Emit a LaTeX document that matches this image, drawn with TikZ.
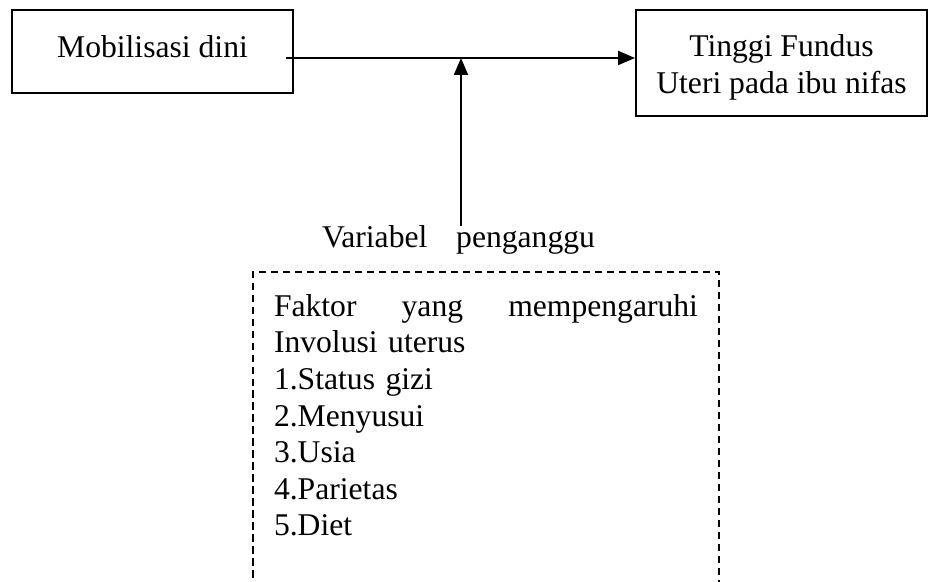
\documentclass[tikz,border=0pt]{standalone}
\usepackage{fontspec}
\setmainfont{Liberation Serif}
\usepackage{tikz}
\usetikzlibrary{shapes,arrows.meta,positioning,fit}
\tikzstyle{box} = [draw,line width=1.1pt,rectangle,inner sep=0pt,align=center]
\tikzstyle{dbox} = [draw,line width=0.8pt,dash pattern=on 0.15cm off 0.09cm]
\tikzstyle{arr} = [line width=1.1pt,-{Triangle[length=0.34cm,width=0.28cm]}]
\tikzstyle{lbl} = [inner sep=0pt,outer sep=0pt]
\def \fs {\fontsize{18}{20.8}\selectfont}

\begin{document}
\begin{tikzpicture}[font=\fs]
      \clip (0,0) rectangle (18.58,11.64);
      \node[box,anchor=north,minimum width=5.62cm,text height=0.96cm,text depth=0.70cm] (mob) at (3.05,11.46) {Mobilisasi dini};
      \node[box,anchor=north,minimum width=5.82cm,text height=1.67cm,text depth=0.45cm] (tfu) at (15.63,11.46) {Tinggi Fundus\\Uteri pada ibu nifas};
      \coordinate (junc) at (9.22,10.48);
      \coordinate (bot) at (0,-0.4);
      \node[lbl,anchor=base] (var) at (9.17,6.68) {\makebox[5.46cm][s]{Variabel penganggu}};
      \node[lbl,anchor=north west,inner xsep=0.42cm,inner ysep=0.45cm,text width=8.48cm,align=left] (fac) at (5.06,6.20)
        {\makebox[8.48cm][l]{Faktor\hfill yang\hfill mempengaruhi}\\Involusi uterus\\1.Status gizi\\2.Menyusui\\3.Usia\\4.Parietas\\5.Diet};
      \draw[arr] ([xshift=-0.16cm]mob.east |- junc) -- (junc -| tfu.west);
      \draw[arr] (var.north -| junc) -- (junc);
      \draw[dbox] (fac.north west |- bot) -- (fac.north west) -- (fac.north east) -- (fac.north east |- bot);
    \end{tikzpicture}
\end{document}
